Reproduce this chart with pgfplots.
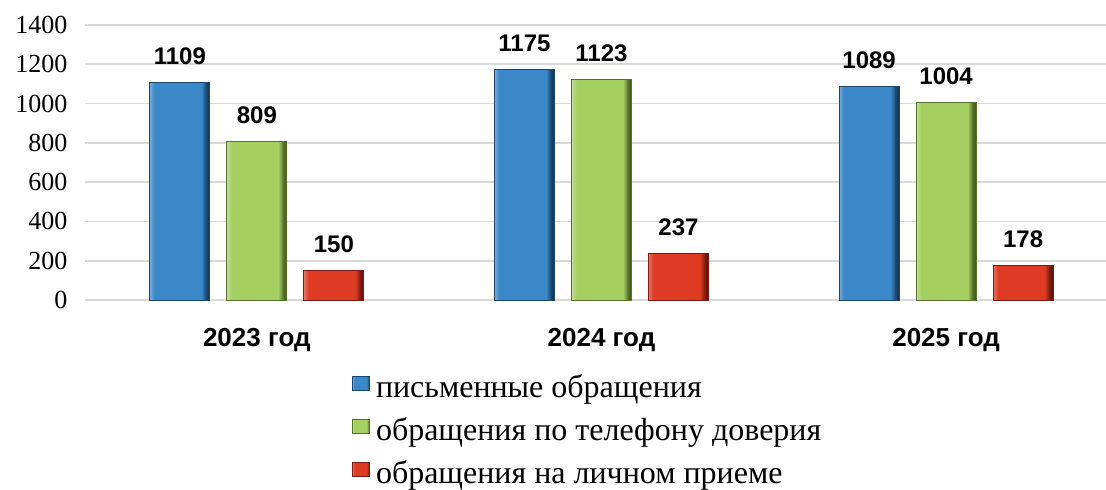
\documentclass[border=0pt]{standalone}
\usepackage{fontspec}
\setmainfont{Liberation Serif}
\newfontfamily\sans{Liberation Sans}
\usepackage{pgfplots}
\pgfplotsset{compat=1.18}
\definecolor{bmain}{HTML}{3A88C8}
\definecolor{bdark}{HTML}{1C4672}
\definecolor{gmain}{HTML}{A6CF62}
\definecolor{gdark}{HTML}{55722A}
\definecolor{rmain}{HTML}{DE3A24}
\definecolor{rdark}{HTML}{7A1A10}
\definecolor{gridc}{HTML}{D9D9D9}
\pgfdeclarehorizontalshading{bsh}{100bp}{color(0bp)=(bmain!70!white); color(25bp)=(bmain!70!white); color(29bp)=(bmain); color(68bp)=(bmain); color(72bp)=(bdark); color(75bp)=(bdark!70!black); color(100bp)=(bdark!70!black)}
\pgfdeclarehorizontalshading{gsh}{100bp}{color(0bp)=(gmain!70!white); color(25bp)=(gmain!70!white); color(29bp)=(gmain); color(68bp)=(gmain); color(72bp)=(gdark); color(75bp)=(gdark!70!black); color(100bp)=(gdark!70!black)}
\pgfdeclarehorizontalshading{rsh}{100bp}{color(0bp)=(rmain!70!white); color(25bp)=(rmain!70!white); color(29bp)=(rmain); color(68bp)=(rmain); color(72bp)=(rdark); color(75bp)=(rdark!70!black); color(100bp)=(rdark!70!black)}
\begin{document}
\begin{tikzpicture}
\path[use as bounding box] (-85pt,-190pt) rectangle (1021pt,300pt);
\begin{axis}[
  at={(0pt,0pt)}, anchor=south west,
  scale only axis, width=1021pt, height=275pt,
  xmin=-0.4986, xmax=2.464, ymin=0, ymax=1400,
  ytick={0,200,...,1400},
  xtick={0,1,2},
  xticklabels={2023 год,2024 год,2025 год},
  ymajorgrids, grid style={gridc, line width=1.6pt},
  axis line style={draw=none},
  major tick length=0pt,
  /pgf/number format/assume math mode=true,
  /pgf/number format/1000 sep={},
  yticklabel style={font=\fontsize{26}{26}\selectfont, anchor=east, xshift=-14pt},
  xticklabel style={font=\sans\bfseries\fontsize{26}{26}\selectfont, anchor=north, yshift=-25pt},
  ybar, bar width=60pt,
  nodes near coords,
  nodes near coords style={font=\sans\bfseries\fontsize{24}{24}\selectfont, anchor=south, yshift=14pt, text=black},
  legend style={at={(0.2615,-0.263)}, anchor=north west, draw=none, fill=none,
    font=\fontsize{32}{32}\selectfont, row sep=14.5pt, inner sep=0pt,
    nodes={inner xsep=6pt, inner ysep=2pt}},
  legend cell align=left,
  legend image code/.code={\path[#1] (0pt,-4pt) rectangle (17pt,10pt);},
  clip=false,
]
\addplot[bar shift=-77pt, draw=bdark, line width=0.8pt, shading=bsh] coordinates {(0,1109)};
\addplot[bar shift=0pt, draw=gdark, line width=0.8pt, shading=gsh] coordinates {(0,809)};
\addplot[bar shift=77pt, draw=rdark, line width=0.8pt, shading=rsh] coordinates {(0,150)};
\addplot[forget plot, bar shift=-77pt, draw=bdark, line width=0.8pt, shading=bsh] coordinates {(1,1175)};
\addplot[forget plot, bar shift=-77pt, draw=bdark, line width=0.8pt, shading=bsh] coordinates {(2,1089)};
\addplot[forget plot, bar shift=0pt, draw=gdark, line width=0.8pt, shading=gsh] coordinates {(1,1123)};
\addplot[forget plot, bar shift=0pt, draw=gdark, line width=0.8pt, shading=gsh] coordinates {(2,1004)};
\addplot[forget plot, bar shift=77pt, draw=rdark, line width=0.8pt, shading=rsh] coordinates {(1,237)};
\addplot[forget plot, bar shift=77pt, draw=rdark, line width=0.8pt, shading=rsh] coordinates {(2,178)};
\legend{письменные обращения, обращения по телефону доверия, обращения на личном приеме}
\end{axis}
\end{tikzpicture}
\end{document}
